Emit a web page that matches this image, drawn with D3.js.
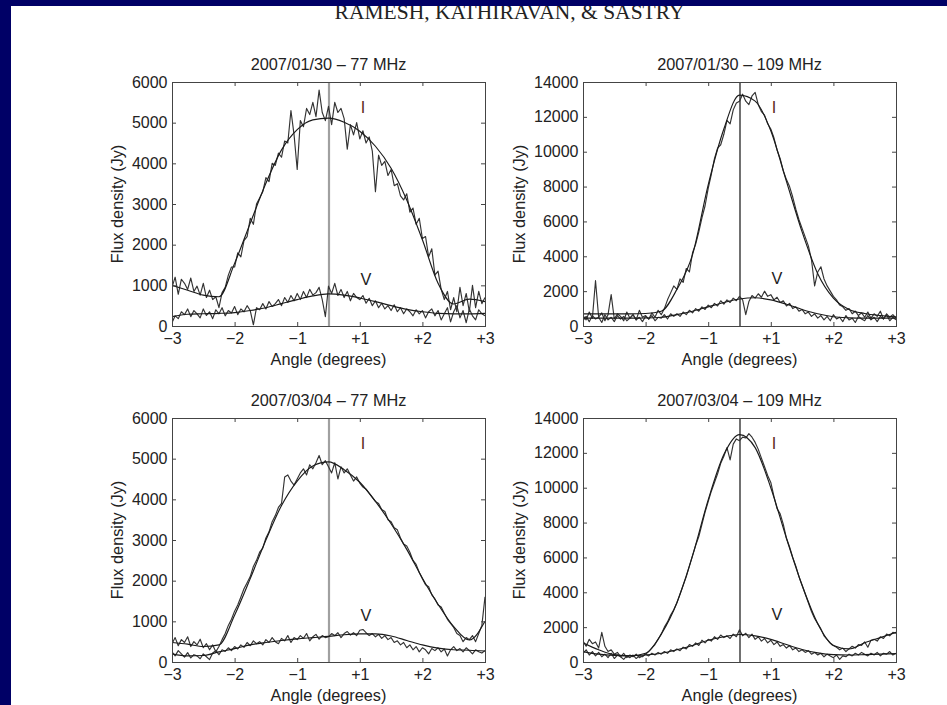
<!DOCTYPE html>
<html><head><meta charset="utf-8">
<script src="https://cdn.jsdelivr.net/npm/d3@7"></script>
<style>body{margin:0;background:#fff;overflow:hidden} svg{display:block}</style>
</head><body>
<svg id="c" width="947" height="705"></svg>
<script>
// ---------------- DATA ----------------
const headerText = "RAMESH, KATHIRAVAN, & SASTRY";
const panelTitles = ["2007/01/30 \u2013 77 MHz", "2007/01/30 \u2013 109 MHz", "2007/03/04 \u2013 77 MHz", "2007/03/04 \u2013 109 MHz"];
const xAxisLabel = "Angle (degrees)";
const yAxisLabel = "Flux density (Jy)";
const xTickPos = [-2.5, -1.5, -0.5, 0.5, 1.5, 2.5];
const xTickLabels = ["\u22123", "\u22122", "\u22121", "+1", "+2", "+3"];
const yTicks77 = [0, 1000, 2000, 3000, 4000, 5000, 6000];
const yTicks109 = [0, 2000, 4000, 6000, 8000, 10000, 12000, 14000];
const curveLabels = ["I", "V"];
const labelAngle = [0.55, 0.6];
const labelFlux77 = [5370, 1160];
const labelFlux109 = [12550, 2770];

// smooth fits (angle in plot units, centre = 0)
const fitX = [-2.5,-2.25,-2,-1.75,-1.5,-1.25,-1,-0.75,-0.5,-0.25,0,0.25,0.5,0.75,1,1.25,1.5,1.75,2,2.25,2.5];
const p1FitI = [1000,880,760,720,1540,2530,3510,4330,4830,5070,5110,5010,4790,4420,3880,3100,2120,1050,540,660,600];
const p1FitV = [230,290,300,310,330,380,450,550,650,740,790,760,690,600,500,410,350,310,300,300,310];
const p2FitI = [700,700,700,700,720,850,2100,4100,8100,11300,13250,12900,11200,8300,5400,3000,1600,950,720,600,520];
const p2FitV = [450,450,450,450,460,500,650,850,1100,1350,1550,1620,1500,1250,950,700,530,470,450,450,450];
const p3FitI = [480,440,380,420,1150,2050,3000,3850,4450,4820,4920,4730,4420,3950,3400,2770,2060,1420,870,540,1000];
const p3FitV = [200,150,160,250,330,420,480,530,570,600,630,670,690,690,640,530,420,340,300,290,270];
const p4FitI = [1100,700,420,350,500,1600,3400,6100,9300,11900,13050,12300,10000,7100,4400,2200,950,750,1100,1400,1700];
const p4FitV = [600,450,380,360,400,500,700,950,1250,1450,1580,1500,1300,1000,720,520,420,400,420,450,480];

// measured (noisy) profiles, 101 evenly spaced samples across the scan
const p1I = [950,1200,780,1150,1050,900,1180,850,980,760,
 1050,700,880,650,720,450,820,950,1250,1450,
 1450,1800,1700,2100,2200,2650,2500,3000,3150,3300,
 3650,3550,4000,3950,4250,4150,4550,4500,5300,4700,
 3850,5050,4900,5350,5200,5500,5150,5800,5250,5050,
 5400,4950,5500,5250,5350,5100,4350,4950,4700,5000,
 4600,4800,4500,4650,4300,3300,4200,3950,4050,3700,
 3850,3450,3500,3200,3100,3250,2800,2900,2500,2650,
 2150,2200,1700,1900,1250,1350,900,650,850,400,
 700,350,950,500,800,350,1000,450,850,550,
 700];
const p1V = [80,250,180,350,280,420,230,380,300,200,
 420,260,350,180,400,300,450,250,380,320,
 480,280,420,350,500,380,30,450,400,550,
 420,600,480,550,650,500,700,580,750,620,
 800,650,850,700,900,760,820,950,650,230,
 980,800,1050,750,900,700,850,620,800,700,
 650,750,560,680,500,620,450,560,420,500,
 380,520,350,450,300,420,350,250,400,300,
 380,200,350,420,250,380,150,300,450,100,
 350,500,200,380,80,420,250,150,400,300,
 250];
const p2I = [600,350,800,450,2600,500,750,300,650,1800,
 400,700,550,300,800,450,650,350,900,500,
 600,400,750,500,900,650,1000,1500,1900,2300,
 2100,2700,2500,3300,3100,4200,4700,5400,6200,6900,
 7900,8700,9600,10200,10400,11000,11800,11600,12400,12800,
 12900,13300,12900,12700,13200,13400,12700,12300,12100,11600,
 11300,10800,10100,9600,8900,8400,8000,7400,6700,6100,
 5600,5100,4600,3800,2300,3100,3400,2700,2300,2000,
 1700,1500,1200,1100,900,1000,700,850,600,750,
 500,800,450,700,550,850,400,700,500,650,
 450];
const p2V = [300,550,250,600,400,500,200,650,350,500,
 250,600,400,550,300,450,650,350,500,250,
 550,400,600,300,500,450,650,400,700,550,
 700,550,800,650,900,750,1000,850,1100,950,
 1200,1050,1300,1150,1450,1250,1500,1350,1600,1450,
 1700,1500,650,1400,1750,1600,1850,1650,2000,1700,
 1800,1500,1650,1350,1450,1150,1300,1000,1100,850,
 950,700,800,550,700,450,600,350,550,300,
 650,400,500,250,600,350,450,200,550,400,
 300,600,350,500,250,550,400,650,300,500,
 350];
const p3I = [450,600,400,550,480,620,380,500,420,560,
 350,450,300,420,250,380,550,700,900,1050,
 1250,1400,1600,1800,1950,2100,2350,2500,2700,2800,
 3050,3200,3450,3600,3800,3900,4550,4600,4450,4350,
 4500,4650,4750,4600,4850,4750,4900,5080,4850,4950,
 4800,4650,4900,4500,4800,4650,4750,4600,4450,4550,
 4400,4300,4250,4150,4050,3950,3900,3750,3700,3500,
 3450,3300,3250,3050,2900,2850,2700,2500,2400,2200,
 2050,1900,1850,1650,1550,1400,1350,1200,1050,950,
 850,700,650,500,600,550,650,500,700,900,
 1600];
const p3V = [250,150,280,200,120,230,100,180,150,80,
 200,130,60,220,280,180,300,260,350,280,
 380,320,420,360,480,400,520,450,500,420,
 550,480,600,500,450,580,520,650,480,600,
 550,650,580,700,520,620,680,560,650,600,
 620,700,650,720,600,700,750,660,720,650,
 780,800,720,650,700,620,680,580,650,550,
 600,480,520,420,480,350,420,300,380,250,
 350,300,200,330,280,350,250,320,150,300,
 380,280,330,250,350,280,200,300,250,220,
 280];
const p4I = [1200,900,1300,1050,1150,800,1700,900,600,700,
 450,550,300,500,250,400,300,450,250,350,
 450,600,800,1000,1300,1600,2000,2300,2700,3000,
 3400,3900,4400,4900,5500,6100,6700,7200,7900,8600,
 9200,9800,10300,10800,11400,11800,12300,11600,12500,12800,
 12700,12900,12850,13100,12900,12600,12200,11700,11200,10700,
 10300,9500,8800,8500,7900,7100,6600,6000,5500,4900,
 4400,3900,3400,2900,2500,2200,1900,1500,1300,1100,
 950,850,700,800,600,750,900,800,1000,950,
 1150,850,1250,1300,1200,1450,1350,1600,1500,1700,
 1650];
const p4V = [500,700,400,600,350,550,300,450,250,500,
 200,400,300,150,350,250,400,200,350,300,
 450,350,500,400,550,450,600,500,700,600,
 750,650,850,750,1000,900,1100,950,1250,1100,
 1300,1200,1450,1300,1550,1400,1500,1350,1600,1450,
 1850,1500,1650,1400,1600,1300,1450,1200,1350,1100,
 1250,1000,1150,900,1000,800,950,700,800,600,
 700,550,650,450,550,400,500,300,450,350,
 250,400,150,350,300,450,350,500,400,550,
 450,350,500,400,550,350,500,450,600,400,
 500];

// ---------------- DRAW ----------------
const FONT = "'Liberation Sans', Arial, Helvetica, sans-serif";
const TXT = "#222";
const svg = d3.select("#c");
svg.append("rect").attr("width", 947).attr("height", 705).attr("fill", "#fff");

const panels = [
  {title: panelTitles[0], yTicks: yTicks77, I: p1I, V: p1V, fI: p1FitI, fV: p1FitV, lab: labelFlux77},
  {title: panelTitles[1], yTicks: yTicks109, I: p2I, V: p2V, fI: p2FitI, fV: p2FitV, lab: labelFlux109},
  {title: panelTitles[2], yTicks: yTicks77, I: p3I, V: p3V, fI: p3FitI, fV: p3FitV, lab: labelFlux77},
  {title: panelTitles[3], yTicks: yTicks109, I: p4I, V: p4V, fI: p4FitI, fV: p4FitV, lab: labelFlux109}
];
const pos = [{l:172, t:82, col:0}, {l:583, t:82, col:1}, {l:172, t:418, col:0}, {l:583, t:418, col:1}];
const W = 313, H = 244;

panels.forEach((p, k) => {
  const ps = pos[k];
  const g = svg.append("g").attr("transform", `translate(${ps.l},${ps.t})`);
  const x = d3.scaleLinear().domain([-2.5, 2.5]).range([0, W]);
  const y = d3.scaleLinear().domain([0, d3.max(p.yTicks)]).range([H, 0]);
  const idx = d3.scaleLinear().domain([0, p.I.length - 1]).range([-2.5, 2.5]);

  const clipId = "clip" + k;
  g.append("clipPath").attr("id", clipId).append("rect").attr("x", 0).attr("y", 0).attr("width", W + 1).attr("height", H + 1);
  const plot = g.append("g").attr("clip-path", `url(#${clipId})`);

  // centre line
  plot.append("line")
    .attr("x1", x(0) + 0.5).attr("x2", x(0) + 0.5).attr("y1", 0).attr("y2", H + 1)
    .attr("stroke", ps.col === 0 ? "#a0a0a0" : "#111")
    .attr("stroke-width", ps.col === 0 ? 2.2 : 1.2);

  const noisy = d3.line().x((d, i) => x(idx(i))).y(d => y(d));
  const fit = d3.line().x((d, i) => x(fitX[i])).y(d => y(d)).curve(d3.curveMonotoneX);

  [p.V, p.I].forEach(s => plot.append("path").attr("d", noisy(s))
    .attr("fill", "none").attr("stroke", "#333").attr("stroke-width", 1.15).attr("stroke-linejoin", "round"));
  [p.fV, p.fI].forEach(s => plot.append("path").attr("d", fit(s))
    .attr("fill", "none").attr("stroke", "#1a1a1a").attr("stroke-width", 1.15));

  // axes (inward ticks, box)
  const styleAxis = sel => {
    sel.select(".domain").remove();
    sel.selectAll(".tick line").attr("stroke", "#444");
    sel.attr("font-family", FONT).attr("font-size", 16);
    sel.selectAll("text").attr("fill", TXT);
  };
  g.append("g").attr("transform", `translate(0,${H})`)
    .call(d3.axisBottom(x).tickValues(xTickPos).tickFormat((d, i) => xTickLabels[i]).tickSizeInner(-4).tickSizeOuter(0).tickPadding(6.3).offset(0.5))
    .call(styleAxis);
  g.append("g")
    .call(d3.axisTop(x).tickValues(xTickPos).tickFormat("").tickSizeInner(-4).tickSizeOuter(0).offset(0.5))
    .call(styleAxis);
  g.append("g")
    .call(d3.axisLeft(y).tickValues(p.yTicks).tickFormat(d3.format("d")).tickSizeInner(-4).tickSizeOuter(0).tickPadding(4.5).offset(0.5))
    .call(styleAxis);
  g.append("g").attr("transform", `translate(${W},0)`)
    .call(d3.axisRight(y).tickValues(p.yTicks).tickFormat("").tickSizeInner(-4).tickSizeOuter(0).offset(0.5))
    .call(styleAxis);

  g.append("rect").attr("x", 0.5).attr("y", 0.5).attr("width", W).attr("height", H)
    .attr("fill", "none").attr("stroke", "#444").attr("stroke-width", 1);

  // curve labels
  curveLabels.forEach((t, j) => {
    g.append("text").attr("x", x(labelAngle[j])).attr("y", y(p.lab[j]))
      .attr("text-anchor", "middle").attr("dy", "0.36em")
      .attr("font-family", FONT).attr("font-size", 16.3)
      .attr("fill", j === 0 ? "#5a2a1e" : TXT).text(t);
  });

  // title and axis labels
  g.append("text").attr("x", W / 2).attr("y", -12).attr("text-anchor", "middle")
    .attr("font-family", FONT).attr("font-size", 16.3).attr("fill", TXT).text(p.title);
  g.append("text").attr("x", W / 2).attr("y", H + 38.5).attr("text-anchor", "middle")
    .attr("font-family", FONT).attr("font-size", 16.3).attr("fill", TXT).text(xAxisLabel);
  const yl = ps.col === 0 ? -49 : -58.5;
  g.append("text").attr("transform", `translate(${yl},${H / 2}) rotate(-90)`).attr("text-anchor", "middle")
    .attr("font-family", FONT).attr("font-size", 16.3).attr("fill", TXT).text(yAxisLabel);
});

// header (partly hidden under the frame band)
svg.append("text").attr("x", 509.5).attr("y", 18.5).attr("text-anchor", "middle")
  .attr("font-family", "'Liberation Serif', 'Times New Roman', serif").attr("font-size", 21.5)
  .attr("fill", TXT).text(headerText);

// navy border
svg.append("rect").attr("x", 0).attr("y", 0).attr("width", 947).attr("height", 6).attr("fill", "#000066");
svg.append("rect").attr("x", 0).attr("y", 0).attr("width", 11).attr("height", 705).attr("fill", "#000066");
</script>
</body></html>
